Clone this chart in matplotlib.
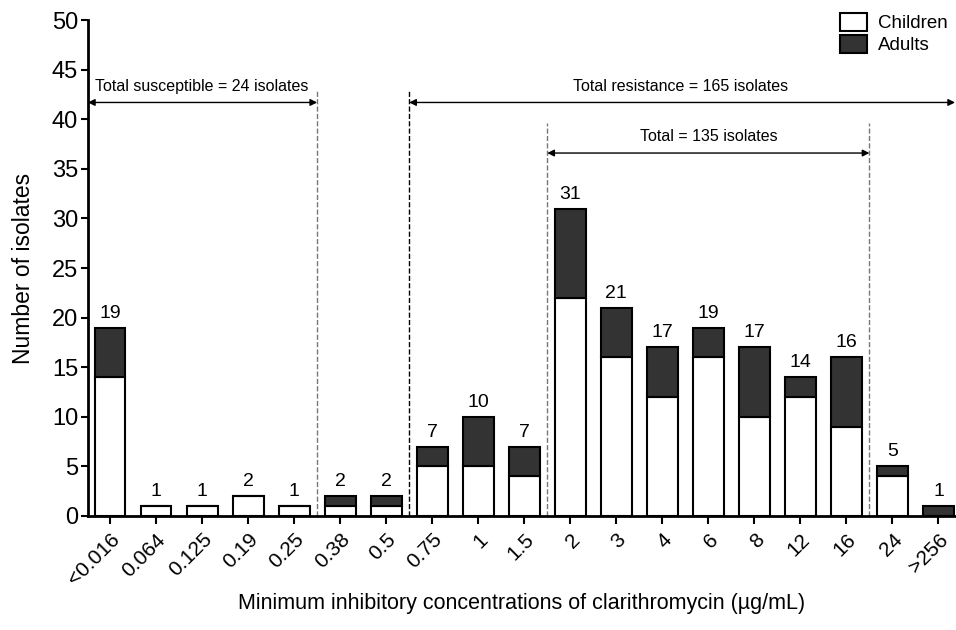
import matplotlib
matplotlib.use('Agg')
import matplotlib.pyplot as plt
import numpy as np

plt.rcParams['font.family']=['Liberation Sans','DejaVu Sans']

mic=['<0.016','0.064','0.125','0.19','0.25','0.38','0.5','0.75','1','1.5',
     '2','3','4','6','8','12','16','24','>256']
children=[14,1,1,2,1,1,1,5,5,4,22,16,12,16,10,12,9,4,0]
adults=[5,0,0,0,0,1,1,2,5,3,9,5,5,3,7,2,7,1,1]
totals=[c+a for c,a in zip(children,adults)]

fig=plt.figure(figsize=(9.56,6.3),dpi=100)
ax=fig.add_axes([0.092,0.181,0.907,0.787])

x=np.arange(len(mic))
w=0.67
ax.bar(x,children,w,color='white',edgecolor='black',linewidth=1.5,label='Children')
ax.bar(x,adults,w,bottom=children,color='#333333',edgecolor='black',linewidth=1.5,label='Adults')

for i,t in enumerate(totals):
    ax.text(i,t+0.6,str(t),ha='center',va='bottom',fontsize=14)

ax.set_xlim(-0.48,18.36)
ax.set_ylim(0,50)
ax.set_yticks(np.arange(0,51,5))
ax.set_xticks(x)
ax.set_xticklabels(mic,rotation=45,ha='right',rotation_mode='anchor',fontsize=15)
ax.tick_params(axis='y',labelsize=17,width=1.5,length=5,pad=2)
ax.tick_params(axis='x',width=1.5,length=6,pad=4)
for s in ['top','right']:
    ax.spines[s].set_visible(False)
for s in ['left','bottom']:
    ax.spines[s].set_linewidth(2)

# dividers between groups
ax.plot([4.5,4.5],[0,43],ls='--',color='#777777',lw=1,clip_on=False)
ax.plot([6.5,6.5],[0,43],ls='--',color='black',lw=1,clip_on=False)
ax.plot([9.5,9.5],[0,39.6],ls='--',color='#777777',lw=1,clip_on=False)
ax.plot([16.5,16.5],[0,39.6],ls='--',color='#777777',lw=1,clip_on=False)

arr=dict(arrowstyle='<|-|>',color='black',lw=1,mutation_scale=10,shrinkA=0,shrinkB=0)
ax.annotate('',xy=(-0.48,41.7),xytext=(4.5,41.7),arrowprops=arr,annotation_clip=False)
ax.text(2.0,43.3,'Total susceptible = 24 isolates',ha='center',va='center',fontsize=11.5)
ax.annotate('',xy=(6.5,41.7),xytext=(18.36,41.7),arrowprops=arr,annotation_clip=False)
ax.text(12.4,43.3,'Total resistance = 165 isolates',ha='center',va='center',fontsize=11.5)
ax.annotate('',xy=(9.5,36.6),xytext=(16.5,36.6),arrowprops=arr,annotation_clip=False)
ax.text(13.0,38.3,'Total = 135 isolates',ha='center',va='center',fontsize=11.5)

ax.set_ylabel('Number of isolates',fontsize=16.5,labelpad=12)
ax.set_xlabel('Minimum inhibitory concentrations of clarithromycin (\u00b5g/mL)',fontsize=15.5,labelpad=3)

leg=ax.legend(loc='upper right',bbox_to_anchor=(1.0,1.03),frameon=False,fontsize=13.5,
              handlelength=1.4,handleheight=1.1,handletextpad=0.6,labelspacing=0.15,borderaxespad=0)

fig.savefig('out.png',dpi=100)
